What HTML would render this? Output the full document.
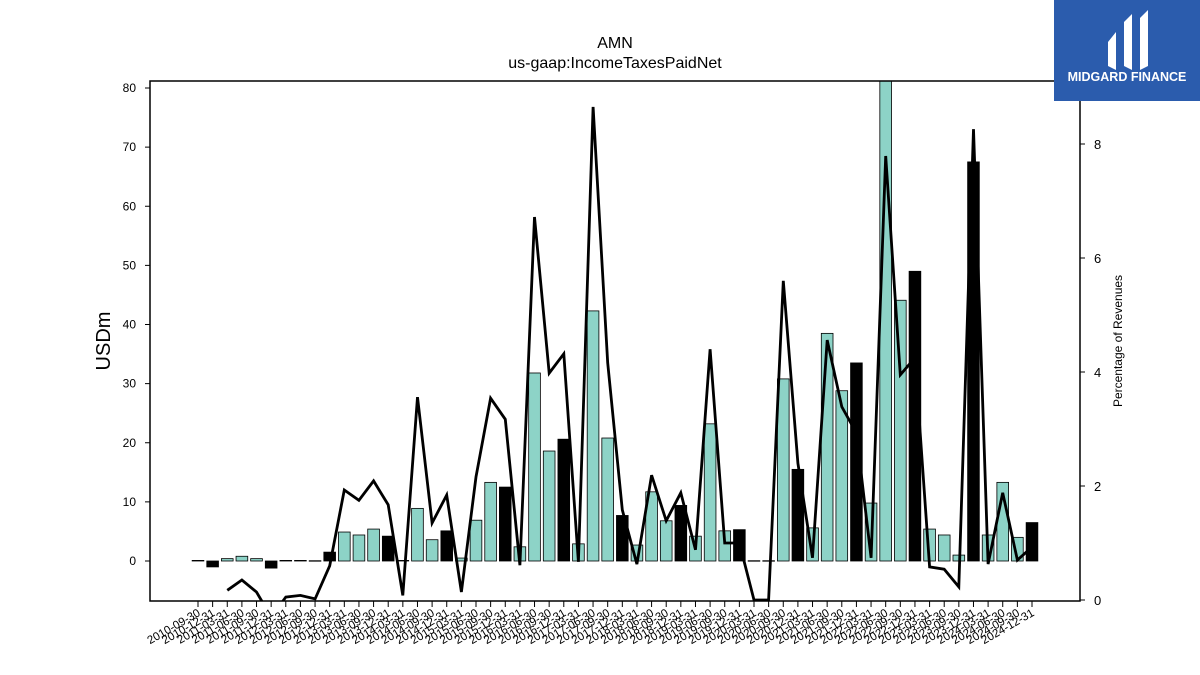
<!DOCTYPE html>
<html><head><meta charset="utf-8"><style>
html,body{margin:0;padding:0;background:#fff;}
svg{display:block;font-family:"Liberation Sans","DejaVu Sans",sans-serif;}
</style></head><body>
<svg id="chart" width="1200" height="675" viewBox="0 0 1200 675" xmlns="http://www.w3.org/2000/svg">
<defs><clipPath id="plotclip"><rect x="150" y="81" width="930" height="520"/></clipPath></defs>
<text x="615" y="48" text-anchor="middle" font-size="16">AMN</text>
<text x="615" y="68" text-anchor="middle" font-size="16">us-gaap:IncomeTaxesPaidNet</text>
<g id="bars" clip-path="url(#plotclip)"></g>
<g id="line" clip-path="url(#plotclip)"></g>
<rect x="150" y="81" width="930" height="520" fill="none" stroke="#000" stroke-width="1.5"/>
<g id="yticks"></g><g id="y2ticks"></g><g id="xticks"></g>
<text transform="translate(110,341) rotate(-90)" text-anchor="middle" font-size="20">USDm</text>
<text transform="translate(1122,341) rotate(-90)" text-anchor="middle" font-size="12">Percentage of Revenues</text>
<g>
<rect x="1054" y="0" width="146" height="101" fill="#2b5cad"/>
<path d="M1108 42 L1116 32 L1116 70 L1108 66 Z M1124 22 L1132 14 L1132 70 L1124 66 Z M1140 18 L1148 10 L1148 66 L1140 70 Z" fill="#fff"/>
<text x="1127" y="81" text-anchor="middle" font-size="12.5" font-weight="bold" fill="#fff">MIDGARD FINANCE</text>
</g>
</svg>
<script>
const labels=[];
for(let y=2010;y<=2024;y++){for(const q of ["03-31","06-30","09-30","12-31"]){if(y===2010&&(q==="03-31"||q==="06-30"))continue;labels.push(y+"-"+q);}}
const barValues=[0.1,-1.0,0.4,0.8,0.4,-1.2,0.1,0.1,0.05,1.5,4.9,4.4,5.4,4.2,0.1,8.9,3.6,5.1,0.5,6.9,13.3,12.5,2.4,31.8,18.6,20.6,2.9,42.3,20.8,7.7,2.7,11.7,6.8,9.4,4.2,23.2,5.1,5.3,0.05,0.05,30.8,15.5,5.6,38.5,28.8,33.5,9.8,85,44.1,49.0,5.4,4.4,1.0,67.5,4.4,13.3,4.0,6.5];
const pctValues=[null,null,0.17,0.35,0.14,-0.3,0.05,0.08,0.02,0.6,1.93,1.75,2.09,1.67,0.08,3.56,1.35,1.84,0.14,2.16,3.54,3.17,0.61,6.72,3.98,4.32,0.67,8.65,4.16,1.58,0.63,2.19,1.39,1.88,0.88,4.4,1.0,1.0,0.0,0.0,5.6,2.4,0.74,4.56,3.39,2.93,0.74,7.79,3.95,4.25,0.58,0.54,0.23,8.26,0.63,1.88,0.7,0.93];
const yTicks=[0,10,20,30,40,50,60,70,80];
const y2Ticks=[0,2,4,6,8];
const NS="http://www.w3.org/2000/svg";
const x=i=>198+i*(1032-198)/57;
const y=v=>561-v*(561-88)/80;
const y2=v=>600-v*(600-144)/8;
function mk(tag,attrs,parent,text){const e=document.createElementNS(NS,tag);for(const k in attrs)e.setAttribute(k,attrs[k]);if(text!==undefined)e.textContent=text;parent.appendChild(e);return e;}
const gb=document.getElementById('bars');
barValues.forEach((v,i)=>{
 const top=Math.min(y(v),y(0)),h=Math.abs(y(v)-y(0));
 const black=(labels[i].endsWith("12-31"));
 const r=mk('rect',{x:x(i)-5.85,y:top,width:11.7,height:Math.max(h,0.5),fill:black?'#000':'#8dd3c7',stroke:'#000','stroke-width':0.8},gb);
 
 
});
let d="";let pen=false;
pctValues.forEach((v,i)=>{if(v===null){pen=false;return;}d+=(pen?"L":"M")+x(i).toFixed(1)+" "+y2(v).toFixed(1)+" ";pen=true;});
const ln=mk('path',{d:d,fill:'none',stroke:'#000','stroke-width':2.8,'stroke-linejoin':'miter'},document.getElementById('line'));


const gy=document.getElementById('yticks');
yTicks.forEach(t=>{
 mk('line',{x1:145,x2:150,y1:y(t),y2:y(t),stroke:'#000'},gy);
 const tx=mk('text',{x:136,y:y(t)+4,'text-anchor':'end','font-size':12},gy,String(t));
 
 
});
const gy2=document.getElementById('y2ticks');
y2Ticks.forEach(t=>{
 mk('line',{x1:1080,x2:1085,y1:y2(t),y2:y2(t),stroke:'#000'},gy2);
 const tx=mk('text',{x:1094,y:y2(t)+5,'text-anchor':'start','font-size':13},gy2,String(t));
 
 
});
const gx=document.getElementById('xticks');
labels.forEach((l,i)=>{
 mk('line',{x1:x(i),x2:x(i),y1:601,y2:607,stroke:'#000'},gx);
 const tx=mk('text',{transform:`translate(${x(i)+3},${615}) rotate(-30)`,'text-anchor':'end','font-size':11.5},gx,l);
 
 
});
</script>
</body></html>
